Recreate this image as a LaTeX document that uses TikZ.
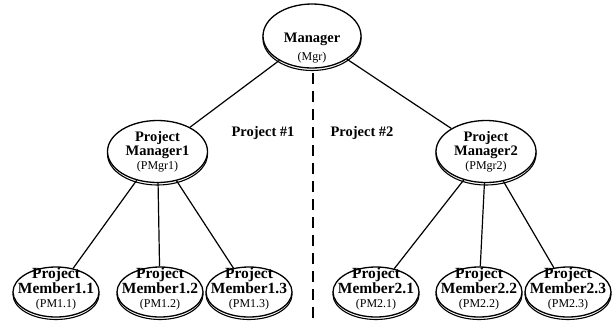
\documentclass[tikz,border=0pt]{standalone}
\usepackage{fontspec}
\setmainfont{Liberation Serif}
\usetikzlibrary{shapes.geometric,shadows}
\newcommand{\abbr}[1]{{\mdseries\fontsize{12}{14}\selectfont(#1)}}

\begin{document}
\begin{tikzpicture}[x=1pt, y=-1pt,
    role/.style={ellipse, draw, line width=1.3pt, fill=white, inner sep=0pt,
      align=center, font=\fontsize{14.5}{14}\selectfont\bfseries,
      drop shadow={shadow xshift=0pt, shadow yshift=-2.5pt, fill=white,
        draw=black, line width=1.1pt, opacity=1}},
    boss/.style={role, minimum width=98pt, minimum height=64pt,
      inner ysep=-6pt, text height=51pt, text depth=3pt},
    lead/.style={role, minimum width=100pt, minimum height=62pt},
    member/.style={role, minimum width=86pt, minimum height=50pt, inner sep=-10pt,
      font=\fontsize{15.5}{13.5}\selectfont\bfseries,
      text height=38pt, text depth=8pt},
    link/.style={line width=1.2pt},
    tag/.style={font=\fontsize{14.5}{14}\selectfont\bfseries}]
  \useasboundingbox (0,0) rectangle (612,322);

  % top
  \node[boss] (mgr) at (312,36) {Manager\\[4pt]\abbr{Mgr}};

  % project managers
  \node[lead] (pmgr1) at (157.5,151.5) {Project\\Manager1\\\abbr{PMgr1}};
  \node[lead] (pmgr2) at (486,151.5) {Project\\Manager2\\\abbr{PMgr2}};

  % members
  \node[member] (pm11) at (56,292) {Project\\Member1.1\\\abbr{PM1.1}};
  \node[member] (pm12) at (160,292) {Project\\Member1.2\\\abbr{PM1.2}};
  \node[member] (pm13) at (249,292) {Project\\Member1.3\\\abbr{PM1.3}};
  \node[member] (pm21) at (376,292) {Project\\Member2.1\\\abbr{PM2.1}};
  \node[member] (pm22) at (479,292) {Project\\Member2.2\\\abbr{PM2.2}};
  \node[member] (pm23) at (568,292) {Project\\Member2.3\\\abbr{PM2.3}};

  % links
  \draw[link] (mgr) -- (pmgr1);
  \draw[link] (mgr) -- (pmgr2);
  \foreach \m in {pm11,pm12,pm13} \draw[link] (pmgr1) -- (\m);
  \foreach \m in {pm21,pm22,pm23} \draw[link] (pmgr2) -- (\m);

  % project split
  \coordinate (divtop) at (313,73);
  \coordinate (divbot) at (313,322);
  \draw[line width=2.4pt, dash pattern=on 11pt off 7pt] (divtop) -- (divbot);
  \node[tag] (proj1) at (263,133) {Project \#1};
  \node[tag] (proj2) at (362,133) {Project \#2};
\end{tikzpicture}
\end{document}
